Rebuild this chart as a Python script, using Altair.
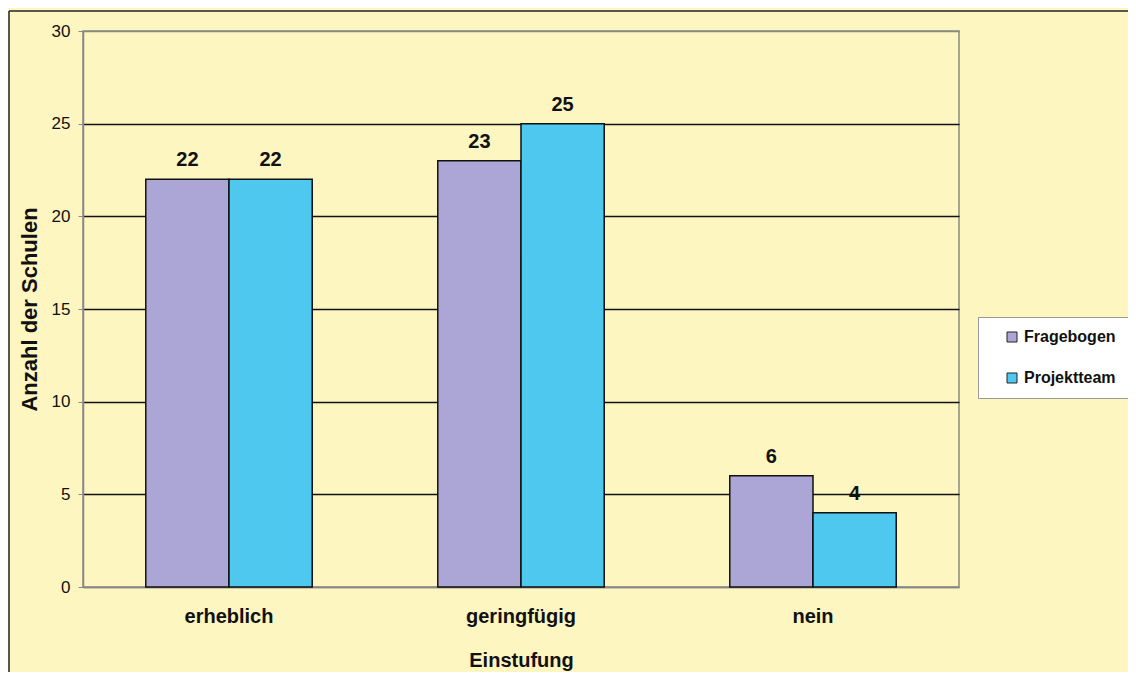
import altair as alt
import pandas as pd

categories = ["erheblich", "geringfügig", "nein"]
series = ["Fragebogen", "Projektteam"]
fragebogen = [22, 23, 6]
projektteam = [22, 25, 4]
colors = ["#ABA6D5", "#4EC8EF"]
y_ticks = [0, 5, 10, 15, 20, 25, 30]

rows = []
for c, a, b in zip(categories, fragebogen, projektteam):
    rows.append({"Einstufung": c, "Serie": series[0], "Anzahl": a})
    rows.append({"Einstufung": c, "Serie": series[1], "Anzahl": b})
df = pd.DataFrame(rows)

FONT = "Liberation Sans"
W, H = 876, 556

x_enc = alt.X("Einstufung:N", sort=categories,
              scale=alt.Scale(paddingInner=0.43, paddingOuter=0.215),
              axis=alt.Axis(title="Einstufung", labelAngle=0, ticks=False,
                            labelFont=FONT, labelFontSize=20, labelFontWeight="bold",
                            labelColor="#111", labelPadding=19,
                            titleFont=FONT, titleFontSize=20, titleFontWeight="bold",
                            titleColor="#111", titlePadding=24,
                            domainColor="#888", domainWidth=1.5))
xo_enc = alt.XOffset("Serie:N", sort=series,
                     scale=alt.Scale(paddingInner=0, paddingOuter=0))
y_enc = alt.Y("Anzahl:Q", scale=alt.Scale(domain=[0, 30], nice=False),
              axis=alt.Axis(title="Anzahl der Schulen", values=y_ticks,
                            labelFont=FONT, labelFontSize=17, labelColor="#111",
                            labelPadding=8, tickSize=5, tickColor="#888",
                            domainColor="#888", domainWidth=1.5,
                            grid=True,
                            gridColor={"condition": {"test": "datum.value == 30 || datum.value == 0",
                                                     "value": "#8a8a80"},
                                       "value": "#111"},
                            gridWidth=1.3,
                            titleFont=FONT, titleFontSize=22, titleFontWeight="bold",
                            titleColor="#111", titlePadding=10))

bars = alt.Chart(df).mark_bar(stroke="#111", strokeWidth=1.5).encode(
    x=x_enc, xOffset=xo_enc, y=y_enc,
    color=alt.Color("Serie:N", sort=series,
                    scale=alt.Scale(domain=series, range=colors),
                    legend=alt.Legend(title=None, orient="none", legendX=895, legendY=286,
                                      fillColor="white", strokeColor="#999",
                                      padding=12, rowPadding=25,
                                      symbolType="square", symbolSize=100,
                                      symbolStrokeColor="#222", symbolStrokeWidth=1,
                                      symbolOpacity=1, symbolOffset=14,
                                      labelFont=FONT, labelFontSize=16,
                                      labelFontWeight="bold", labelColor="#111",
                                      labelOffset=4))
)

labels = alt.Chart(df).mark_text(font=FONT, fontSize=20, fontWeight="bold",
                                 color="#111", baseline="bottom", dy=-9).encode(
    x=alt.X("Einstufung:N", sort=categories), xOffset=xo_enc,
    y="Anzahl:Q", text="Anzahl:Q")

frame_df = pd.DataFrame({"k": [0]})
top_line = alt.Chart(frame_df).mark_rule(color="#222", strokeWidth=1.5).encode(
    x=alt.value(-74), x2=alt.value(1045), y=alt.value(-20))
left_line = alt.Chart(frame_df).mark_rule(color="#222", strokeWidth=1.5).encode(
    x=alt.value(-74), y=alt.value(-20), y2=alt.value(650))

chart = alt.layer(bars, labels, top_line, left_line).properties(
    width=W, height=H,
    background="#FDF6C1",
    padding={"left": 75, "top": 23, "right": 169, "bottom": 85},
    autosize=alt.AutoSizeParams(type="none"),
).configure_view(stroke="#8a8a80", strokeWidth=1.5).configure_axisY(
    gridOpacity=1
)

chart.save("out.html", embed_options={"renderer": "svg", "actions": False})
